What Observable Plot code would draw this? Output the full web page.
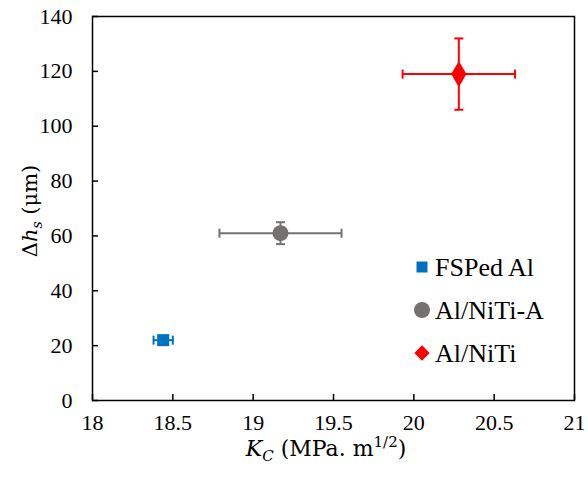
<!DOCTYPE html>
<html>
<head>
<meta charset="utf-8">
<script src="https://cdn.jsdelivr.net/npm/d3@7"></script>
<script src="https://cdn.jsdelivr.net/npm/@observablehq/plot@0.6"></script>
<style>
  html, body { margin: 0; padding: 0; background: #fff; }
  #chart { position: relative; width: 588px; height: 480px; }
</style>
</head>
<body>
<div id="chart"></div>
<script>
// ---- data ----
const materials = ["FSPed Al", "Al/NiTi-A", "Al/NiTi"];
const kc = [18.44, 19.17, 20.28];
const kcErr = [0.06, 0.38, 0.35];
const dh = [22, 61, 119];
const dhErr = [1.5, 4, 13];
const colors = ["#0070C0", "#767171", "#FF0000"];
const symbols = ["square", "circle", "diamond"];
const xTicks = [18, 18.5, 19, 19.5, 20, 20.5, 21];
const yTicks = [0, 20, 40, 60, 80, 100, 120, 140];

const rows = materials.map((m, i) => ({
  m, x: kc[i], xe: kcErr[i], y: dh[i], ye: dhErr[i], c: colors[i], s: symbols[i]
}));

const capV = {draw(ctx, size) { const h = Math.sqrt(size / Math.PI); ctx.moveTo(0, -h); ctx.lineTo(0, h); }};
const capH = {draw(ctx, size) { const h = Math.sqrt(size / Math.PI); ctx.moveTo(-h, 0); ctx.lineTo(h, 0); }};

const W = 588, H = 480;
const mL = 92, mR = 14, mT = 16, mB = 80;
const font = "'Liberation Serif', 'Times New Roman', serif";
const mathFont = "'DejaVu Serif', 'Cambria Math', serif";
const fmt = d => String(d);

const markerR = {square: 6.8, circle: 8, diamond: 8};

const plot = Plot.plot({
  width: W, height: H,
  marginLeft: mL, marginRight: mR, marginTop: mT, marginBottom: mB,
  style: {fontFamily: font, fontSize: "22px", color: "#000", background: "#fff"},
  x: {domain: [18, 21], label: null},
  y: {domain: [0, 140], label: null},
  marks: [
    Plot.frame({stroke: "#000", strokeWidth: 1.5}),
    Plot.axisX(xTicks, {tickSize: 0, tickPadding: 14, fontSize: 22, fill: "#000", tickFormat: fmt, label: null}),
    Plot.axisY(yTicks, {tickSize: 0, tickPadding: 20, fontSize: 22, fill: "#000", tickFormat: fmt, label: null}),
    // inward tick marks
    Plot.tickX(xTicks, {x: d => d, stroke: "#000", strokeWidth: 1.5, insetTop: (H - mT - mB) - 6}),
    Plot.tickY(yTicks, {y: d => d, stroke: "#000", strokeWidth: 1.5, insetRight: (W - mL - mR) - 6}),
    // horizontal error bars
    Plot.link(rows, {x1: d => d.x - d.xe, x2: d => d.x + d.xe, y1: "y", y2: "y", stroke: "c", strokeWidth: 2}),
    Plot.dot(rows, {x: d => d.x - d.xe, y: "y", symbol: () => capV, r: 4.5, stroke: "c", strokeWidth: 2, fill: "none"}),
    Plot.dot(rows, {x: d => d.x + d.xe, y: "y", symbol: () => capV, r: 4.5, stroke: "c", strokeWidth: 2, fill: "none"}),
    // vertical error bars
    Plot.link(rows, {x1: "x", x2: "x", y1: d => d.y - d.ye, y2: d => d.y + d.ye, stroke: "c", strokeWidth: 2}),
    Plot.dot(rows, {x: "x", y: d => d.y - d.ye, symbol: () => capH, r: 4.5, stroke: "c", strokeWidth: 2, fill: "none"}),
    Plot.dot(rows, {x: "x", y: d => d.y + d.ye, symbol: () => capH, r: 4.5, stroke: "c", strokeWidth: 2, fill: "none"}),
    // markers
    ...rows.map(r => Plot.dot([r], {x: "x", y: "y", symbol: r.s, fill: r.c, stroke: "none", r: markerR[r.s]}))
  ]
});

const svg = d3.select(plot);

// axis titles
const xl = svg.append("text")
  .attr("x", 326).attr("y", 456)
  .attr("text-anchor", "middle")
  .attr("font-family", mathFont).attr("font-size", 22).attr("fill", "#000");
xl.append("tspan").attr("font-style", "italic").text("K");
xl.append("tspan").attr("font-style", "italic").attr("font-size", 15).attr("dy", 5).text("C");
xl.append("tspan").attr("dy", -5).text(" (MPa. m");
xl.append("tspan").attr("font-size", 15).attr("dy", -9).text("1/2");
xl.append("tspan").attr("dy", 9).text(")");

const yl = svg.append("text")
  .attr("transform", `translate(37, 211) rotate(-90)`)
  .attr("text-anchor", "middle")
  .attr("font-family", mathFont).attr("font-size", 21).attr("fill", "#000");
yl.append("tspan").text("Δ");
yl.append("tspan").attr("font-style", "italic").text("h");
yl.append("tspan").attr("font-style", "italic").attr("font-size", 14).attr("dy", 5).text("s");
yl.append("tspan").attr("dy", -5).text(" (μm)");

// legend
const lg = svg.append("g").attr("font-family", font).attr("font-size", 26).attr("fill", "#000").attr("text-anchor", "start");
const legendSizes = [{t: d3.symbolSquare, s: 121}, {t: d3.symbolCircle, s: Math.PI * 64}, {t: d3.symbolDiamond2, s: 150}];
materials.forEach((m, i) => {
  const y = 267 + i * 43;
  lg.append("path")
    .attr("transform", `translate(422, ${y})`)
    .attr("d", d3.symbol(legendSizes[i].t, legendSizes[i].s)())
    .attr("fill", colors[i]);
  lg.append("text").attr("x", 435).attr("y", y).attr("dy", "0.35em").attr("text-anchor", "start").text(m);
});

document.getElementById("chart").appendChild(plot);
</script>
</body>
</html>
